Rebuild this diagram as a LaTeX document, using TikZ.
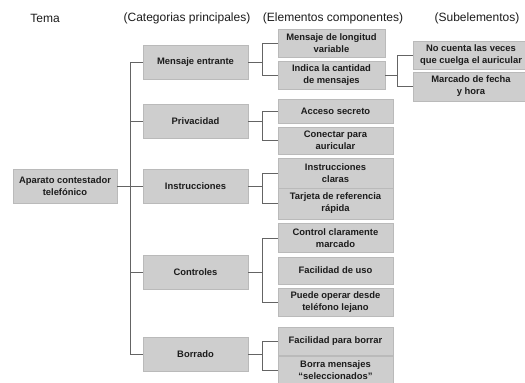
\documentclass[tikz,border=0pt]{standalone}
\usepackage{fontspec}
\setmainfont{Liberation Sans}
\definecolor{boxfill}{RGB}{206,206,206}
\definecolor{boxedge}{RGB}{186,186,186}
\definecolor{linkgray}{RGB}{100,100,100}
\definecolor{inkdark}{RGB}{28,28,28}
\tikzset{
  item/.style={draw=boxedge, line width=0.5pt, fill=boxfill, inner sep=0pt,
    align=center, text=inkdark, font=\fontsize{9.4}{12}\selectfont\bfseries},
  catbox/.style={item, minimum width=105pt, minimum height=34pt},
  elbox/.style={item, minimum width=115pt},
  subbox/.style={item, minimum width=116pt},
  heading/.style={text=inkdark, font=\fontsize{12}{14}\selectfont, inner sep=0pt},
  link/.style={draw=linkgray, line width=0.8pt}
}
\begin{document}
\begin{tikzpicture}[x=1pt, y=-1pt]
\useasboundingbox (0,0) rectangle (525,383);
\fill[white] (0,0) rectangle (525,383);

% column headings
\node[heading] (h0) at (45,18) {Tema};
\node[heading] (h1) at (187,18) {(Categorias principales)};
\node[heading] (h2) at (333,18) {(Elementos componentes)};
\node[heading] (h3) at (477,18) {(Subelementos)};

% theme
\node[catbox, minimum width=104pt] (root) at (65,186) {Aparato contestador\\telefónico};

% main categories
\node[catbox] (c1) at (195.5,62)  {Mensaje entrante};
\node[catbox] (c2) at (195.5,121) {Privacidad};
\node[catbox] (c3) at (195.5,186) {Instrucciones};
\node[catbox] (c4) at (195.5,272.5) {Controles};
\node[catbox] (c5) at (195.5,354) {Borrado};

% component elements
\node[elbox, minimum width=107pt, minimum height=28pt] (e11) at (331.5,43) {Mensaje de longitud\\variable};
\node[elbox, minimum width=107pt, minimum height=28pt] (e12) at (331.5,75) {Indica la cantidad\\de mensajes};
\node[elbox, minimum height=24pt] (e21) at (335.5,111) {Acceso secreto};
\node[elbox, minimum height=27pt] (e22) at (335.5,140.5) {Conectar para\\auricular};
\node[elbox, minimum height=30pt] (e31) at (335.5,173) {Instrucciones\\claras};
\node[elbox, minimum height=31pt] (e32) at (335.5,203.5) {Tarjeta de referencia\\rápida};
\node[elbox, minimum height=29pt] (e41) at (335.5,238) {Control claramente\\marcado};
\node[elbox, minimum height=27pt] (e42) at (335.5,270.5) {Facilidad de uso};
\node[elbox, minimum height=28pt] (e43) at (335.5,302) {Puede operar desde\\teléfono lejano};
\node[elbox, minimum height=28pt] (e51) at (335.5,341) {Facilidad para borrar};
\node[elbox, minimum height=28pt] (e52) at (335.5,370.5) {Borra mensajes\\“seleccionados”};

% sub-elements
\node[subbox, minimum height=28pt] (s1) at (471,55) {No cuenta las veces\\que cuelga el auricular};
\node[subbox, minimum height=29pt] (s2) at (471,86.5) {Marcado de fecha\\y hora};

% trunk joining the theme to its categories
\coordinate (tk) at (130,0);
\draw[link] (c1.west) -- (c1.west -| tk) -- (c5.west -| tk) -- (c5.west);
\draw[link] (c2.west) -- (c2.west -| tk);
\draw[link] (c4.west) -- (c4.west -| tk);
\draw[link] (root.east) -- (c3.west);

% brackets from categories to their elements
\draw[link] (c1.east) -- +(15,0);
\draw[link] (e11.west) -- ++(-15,0) |- (e12.west);
\draw[link] (c2.east) -- +(15,0);
\draw[link] (e21.west) -- ++(-15,0) |- (e22.west);
\draw[link] (c3.east) -- +(15,0);
\draw[link] (e31.west) -- ++(-15,0) |- (e32.west);
\draw[link] (c4.east) -- +(15,0);
\draw[link] (e41.west) -- ++(-15,0) |- (e43.west);
\draw[link] (c5.east) -- +(15,0);
\draw[link] (e51.west) -- ++(-15,0) |- (e52.west);

% bracket from an element to its sub-elements
\draw[link] (e12.east) -- +(13,0);
\draw[link] (s1.west) -- ++(-15,0) |- (s2.west);
\end{tikzpicture}
\end{document}
